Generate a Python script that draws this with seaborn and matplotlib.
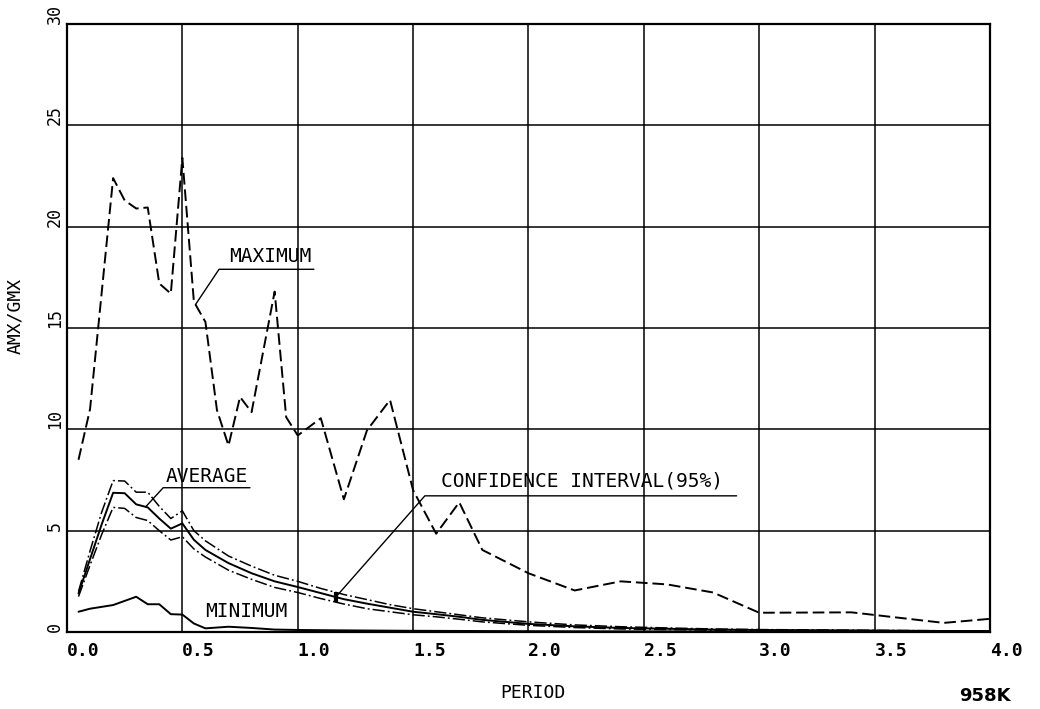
import numpy as np
import pandas as pd
import matplotlib
matplotlib.use("Agg")
import matplotlib.pyplot as plt
import seaborn as sns

# Spectral amplification ratio AMX/GMX versus period, record set 958K
max_period = [0.05, 0.10, 0.20, 0.25, 0.30, 0.35, 0.40, 0.45, 0.50, 0.55,
              0.60, 0.65, 0.70, 0.75, 0.80, 0.90, 0.95, 1.00, 1.10, 1.20,
              1.30, 1.40, 1.50, 1.60, 1.70, 1.80, 2.00, 2.20, 2.40, 2.60,
              2.80, 3.00, 3.40, 3.80, 4.00]
max_ratio = [8.5, 11.0, 22.4, 21.3, 20.9, 20.95, 17.2, 16.7, 23.4, 16.3,
             15.3, 10.95, 9.2, 11.6, 10.85, 16.8, 10.6, 9.7, 10.55, 6.55,
             9.95, 11.45, 7.0, 4.85, 6.4, 4.05, 2.9, 2.05, 2.5, 2.35,
             1.95, 0.95, 0.97, 0.45, 0.65]

avg_period = [0.05, 0.10, 0.15, 0.20, 0.25, 0.30, 0.35, 0.40, 0.45, 0.50,
              0.55, 0.60, 0.70, 0.80, 0.90, 1.00, 1.10, 1.20, 1.30, 1.40,
              1.50, 1.60, 1.70, 1.80, 2.00, 2.20, 2.40, 2.60, 2.80, 3.00,
              3.40, 3.80, 4.00]
avg_ratio = [1.9, 3.6, 5.3, 6.87, 6.85, 6.3, 6.15, 5.6, 5.1, 5.36,
             4.55, 4.05, 3.4, 2.9, 2.5, 2.22, 1.92, 1.62, 1.4, 1.2,
             1.0, 0.88, 0.75, 0.6, 0.4, 0.28, 0.2, 0.16, 0.12, 0.1,
             0.08, 0.05, 0.05]
ci_upper = [2.0, 4.0, 5.9, 7.47, 7.45, 6.9, 6.9, 6.2, 5.6, 5.98,
            5.0, 4.5, 3.75, 3.25, 2.8, 2.5, 2.15, 1.85, 1.6, 1.35,
            1.15, 1.0, 0.85, 0.7, 0.5, 0.35, 0.26, 0.2, 0.15, 0.12,
            0.09, 0.06, 0.06]
ci_lower = [1.75, 3.3, 4.8, 6.15, 6.1, 5.65, 5.5, 5.0, 4.54, 4.7,
            4.1, 3.7, 3.05, 2.6, 2.2, 1.95, 1.65, 1.38, 1.15, 1.0,
            0.85, 0.75, 0.63, 0.5, 0.33, 0.22, 0.15, 0.12, 0.09, 0.07,
            0.06, 0.04, 0.04]

min_period = [0.05, 0.10, 0.20, 0.30, 0.35, 0.40, 0.45, 0.50, 0.55, 0.60,
              0.70, 0.80, 0.90, 1.00, 1.20, 1.50, 2.00, 3.00, 4.00]
min_ratio = [1.0, 1.15, 1.33, 1.74, 1.37, 1.37, 0.88, 0.86, 0.42, 0.18,
             0.26, 0.2, 0.12, 0.1, 0.08, 0.06, 0.04, 0.02, 0.01]

x_ticks = [0.0, 0.5, 1.0, 1.5, 2.0, 2.5, 3.0, 3.5, 4.0]
x_tick_labels = ["0.0", "0.5", "1.0", "1.5", "2.0", "2.5", "3.0", "3.5", "4.0"]
y_ticks = [0, 5, 10, 15, 20, 25, 30]
y_tick_labels = ["0", "5", "10", "15", "20", "25", "30"]

sns.set_style("white")
plt.rcParams["font.family"] = ["DejaVu Sans Mono", "DejaVu Sans"]
plt.rcParams["text.color"] = "black"
plt.rcParams["axes.labelcolor"] = "black"
plt.rcParams["xtick.color"] = "black"
plt.rcParams["ytick.color"] = "black"

fig = plt.figure(figsize=(10.4, 7.09), dpi=100)
ax = fig.add_axes([0.0644, 0.1086, 0.8875, 0.8574])

ink = "black"
lw = 1.4
dash_max = (0, (6, 2.5))
dash_ci = (0, (8, 2, 1.2, 2))

df_max = pd.DataFrame({"period": max_period, "ratio": max_ratio})
df_avg = pd.DataFrame({"period": avg_period, "ratio": avg_ratio,
                       "upper": ci_upper, "lower": ci_lower})
df_min = pd.DataFrame({"period": min_period, "ratio": min_ratio})

sns.lineplot(data=df_max, x="period", y="ratio", ax=ax, color=ink, lw=lw,
             linestyle=dash_max, estimator=None, legend=False)
sns.lineplot(data=df_avg, x="period", y="upper", ax=ax, color=ink, lw=1.1,
             linestyle=dash_ci, estimator=None, legend=False)
sns.lineplot(data=df_avg, x="period", y="lower", ax=ax, color=ink, lw=1.1,
             linestyle=dash_ci, estimator=None, legend=False)
sns.lineplot(data=df_avg, x="period", y="ratio", ax=ax, color=ink, lw=lw,
             estimator=None, legend=False)
sns.lineplot(data=df_min, x="period", y="ratio", ax=ax, color=ink, lw=lw,
             estimator=None, legend=False)

# Confidence-interval bar where the leader touches the average curve
x_ci = 1.165
ax.plot([x_ci, x_ci],
        [np.interp(x_ci, avg_period, ci_lower), np.interp(x_ci, avg_period, ci_upper)],
        color=ink, lw=3, solid_capstyle="butt")

# Curve labels with leader lines
lead_kw = dict(color=ink, lw=1.0)
txt_kw = dict(fontsize=14, color=ink, ha="center", va="baseline",
              family="DejaVu Sans Mono")

x_m = 0.557
ax.plot([1.07, 0.659, x_m], [17.9, 17.9, np.interp(x_m, max_period, max_ratio)], **lead_kw)
ax.text(0.88, 18.25, "MAXIMUM", **txt_kw)

x_a = 0.341
ax.plot([0.793, 0.417, x_a], [7.12, 7.12, np.interp(x_a, avg_period, avg_ratio)], **lead_kw)
ax.text(0.605, 7.4, "AVERAGE", **txt_kw)

ax.plot([2.902, 1.551, x_ci], [6.72, 6.72, np.interp(x_ci, avg_period, avg_ratio)], **lead_kw)
ax.text(2.23, 7.2, "CONFIDENCE INTERVAL(95%)", **txt_kw)

ax.text(0.779, 0.73, "MINIMUM", **txt_kw)

# Axes, grid and ticks
ax.set_xlim(0, 4)
ax.set_ylim(0, 30)
ax.set_xticks(x_ticks)
ax.set_xticklabels(x_tick_labels, ha="left", fontsize=13, fontweight="bold")
ax.set_yticks(y_ticks)
ax.set_yticklabels(y_tick_labels, rotation=90, va="bottom", fontsize=12)
ax.tick_params(axis="x", length=0, pad=7)
ax.tick_params(axis="y", length=0, pad=2)
ax.grid(True, color=ink, lw=1.1)
for sp in ax.spines.values():
    sp.set_visible(True)
    sp.set_color(ink)
    sp.set_linewidth(1.6)

ax.set_xlabel("PERIOD", fontsize=13, va="center", color=ink)
ax.xaxis.set_label_coords(0.505, -0.1003)
ax.set_ylabel("AMX/GMX", fontsize=13, va="center", color=ink)
ax.yaxis.set_label_coords(-0.0563, 0.52)

fig.text(984.5 / 1040, 1 - 696 / 709, "958K", fontsize=13, fontweight="bold",
         ha="center", va="center", family="DejaVu Sans", color=ink)

fig.savefig("out.png", dpi=100)
